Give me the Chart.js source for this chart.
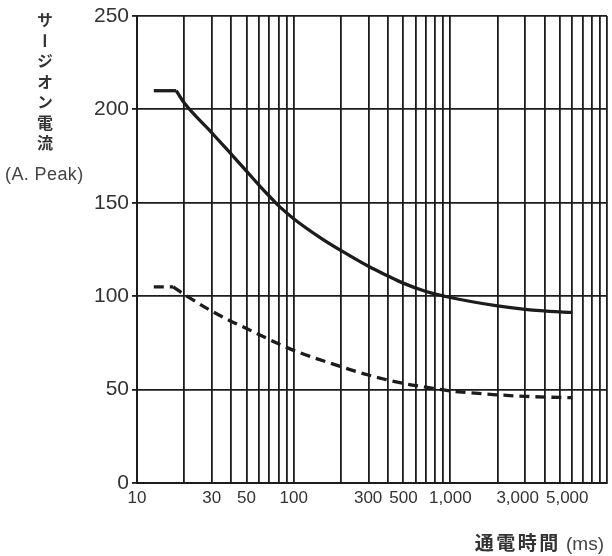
<!DOCTYPE html>
<html>
<head>
<meta charset="utf-8">
<script src="https://cdn.jsdelivr.net/npm/chart.js@4/dist/chart.umd.min.js"></script>
<style>
  html, body { margin: 0; padding: 0; background: #fff; }
  #wrap { position: relative; width: 612px; height: 556px; overflow: hidden; }
  #c { position: absolute; left: 0; top: 0; }
  .ytitle {
    position: absolute; left: 37px; top: 12px;
    writing-mode: vertical-rl; text-orientation: upright;
    font-family: "Noto Sans CJK JP", sans-serif; font-size: 16px; font-weight: 700;
    letter-spacing: 4.5px; color: #333; line-height: 1;
  }
  .yunit {
    position: absolute; left: 5px; top: 164px;
    font-family: "Liberation Sans", Arial, sans-serif; font-size: 18px;
    color: #444; letter-spacing: 0.4px; white-space: nowrap;
  }
  .xtitle {
    position: absolute; right: 8px; top: 532px;
    font-family: "Noto Sans CJK JP", sans-serif; font-size: 19px;
    color: #333; line-height: 1; white-space: nowrap;
  }
  .xtitle b { font-weight: 700; letter-spacing: 2.5px; }
  .xtitle span { font-family: "Liberation Sans", Arial, sans-serif; color: #444; }
</style>
</head>
<body>
<div id="wrap">
  <canvas id="c" width="612" height="556"></canvas>
  <div class="ytitle">サージオン電流</div>
  <div class="yunit">(A. Peak)</div>
  <div class="xtitle"><b>通電時間</b><span> (ms)</span></div>
</div>
<script>
// ---- data ----
// solid curve: plateau, then decline
const solidFlatX = [12.8, 17.8];
const solidFlatY = [210, 210];
const solidX = [17.8, 20, 30, 40, 50, 60, 70, 80, 100, 150, 200, 300, 400, 500, 700, 1000, 2000, 3000, 5000, 6000];
const solidY = [210, 203.5, 187.5, 176, 167, 159.5, 153.5, 148.5, 141.5, 131, 124.5, 116, 110.8, 107, 102.5, 99.3, 94.8, 93, 91.6, 91.3];

// dashed curve: plateau, then decline
const dashFlatX = [12.8, 17];
const dashFlatY = [105, 105];
const dashX = [17, 20, 30, 40, 50, 60, 80, 100, 200, 300, 500, 700, 1000, 2000, 3000, 5000, 6000];
const dashY = [105, 101, 92, 86.5, 82.7, 79.5, 74.5, 71, 62.3, 57.8, 53.3, 51.3, 49.3, 47.2, 46.4, 45.8, 45.7];

const xLabelValues = [10, 30, 50, 100, 300, 500, 1000, 3000, 5000];
const xGridValues = [10, 20, 30, 40, 50, 60, 70, 80, 90,
                     100, 200, 300, 400, 500, 600, 700, 800, 900,
                     1000, 2000, 3000, 4000, 5000, 6000, 7000, 8000, 9000, 10000];
const yTickValues = [0, 50, 100, 150, 200, 250];

const toPts = (xs, ys) => xs.map((x, i) => ({ x: x, y: ys[i] }));
const ink = '#1c1c1c';
const labelColor = '#333';
const numFont = '"Liberation Sans", Arial, sans-serif';
const xLabelFont = '17px ' + numFont;

// Draws the x tick labels centred under their grid lines, nudging apart any that would collide.
const xLabelPlugin = {
  id: 'xLabels',
  afterDraw(chart) {
    const ctx = chart.ctx;
    const sx = chart.scales.x;
    ctx.save();
    ctx.font = xLabelFont;
    const items = xLabelValues.map(v => {
      const text = v.toLocaleString('en-US');
      const w = ctx.measureText(text).width;
      return { text, w, cx: sx.getPixelForValue(v) };
    });
    const gap = 7;
    for (let pass = 0; pass < 4; pass++) {
      for (let i = 1; i < items.length; i++) {
        const a = items[i - 1], b = items[i];
        const need = (a.w + b.w) / 2 + gap;
        const have = b.cx - a.cx;
        if (have < need) { const d = (need - have) / 2; a.cx -= d; b.cx += d; }
      }
    }
    ctx.fillStyle = labelColor;
    ctx.textAlign = 'center';
    ctx.textBaseline = 'top';
    const y = chart.chartArea.bottom + 7;
    items.forEach(it => ctx.fillText(it.text, it.cx, y));
    ctx.restore();
  }
};

const lineStyle = { borderColor: ink, borderWidth: 3.3, pointRadius: 0, fill: false };

new Chart(document.getElementById('c'), {
  type: 'line',
  data: {
    datasets: [
      Object.assign({ data: toPts(solidFlatX, solidFlatY), tension: 0 }, lineStyle),
      Object.assign({ data: toPts(solidX, solidY), cubicInterpolationMode: 'monotone' }, lineStyle),
      Object.assign({ data: toPts(dashFlatX, dashFlatY), tension: 0, borderDash: [10, 6] }, lineStyle),
      Object.assign({ data: toPts(dashX, dashY), cubicInterpolationMode: 'monotone', borderDash: [10, 6] }, lineStyle)
    ]
  },
  plugins: [xLabelPlugin],
  options: {
    responsive: false,
    animation: false,
    devicePixelRatio: 1,
    layout: { padding: { top: 16, right: 5, left: 0, bottom: 0 } },
    plugins: { legend: { display: false }, tooltip: { enabled: false } },
    scales: {
      x: {
        type: 'logarithmic', min: 10, max: 10000,
        afterBuildTicks: s => { s.ticks = xGridValues.map(v => ({ value: v })); },
        afterFit: s => { s.height = 73; },
        ticks: { autoSkip: false, maxRotation: 0, minRotation: 0, callback: () => '' },
        grid: { color: ink, lineWidth: 1.8, drawTicks: false },
        border: { color: ink, width: 2 }
      },
      y: {
        min: 0, max: 250,
        afterBuildTicks: s => { s.ticks = yTickValues.map(v => ({ value: v })); },
        afterFit: s => { s.width = 137; },
        ticks: {
          color: labelColor, padding: 3,
          font: { family: numFont, size: 21 }
        },
        grid: { color: ink, lineWidth: 1.8, tickLength: 5, drawTicks: true },
        border: { color: ink, width: 2 }
      }
    }
  }
});
</script>
</body>
</html>
